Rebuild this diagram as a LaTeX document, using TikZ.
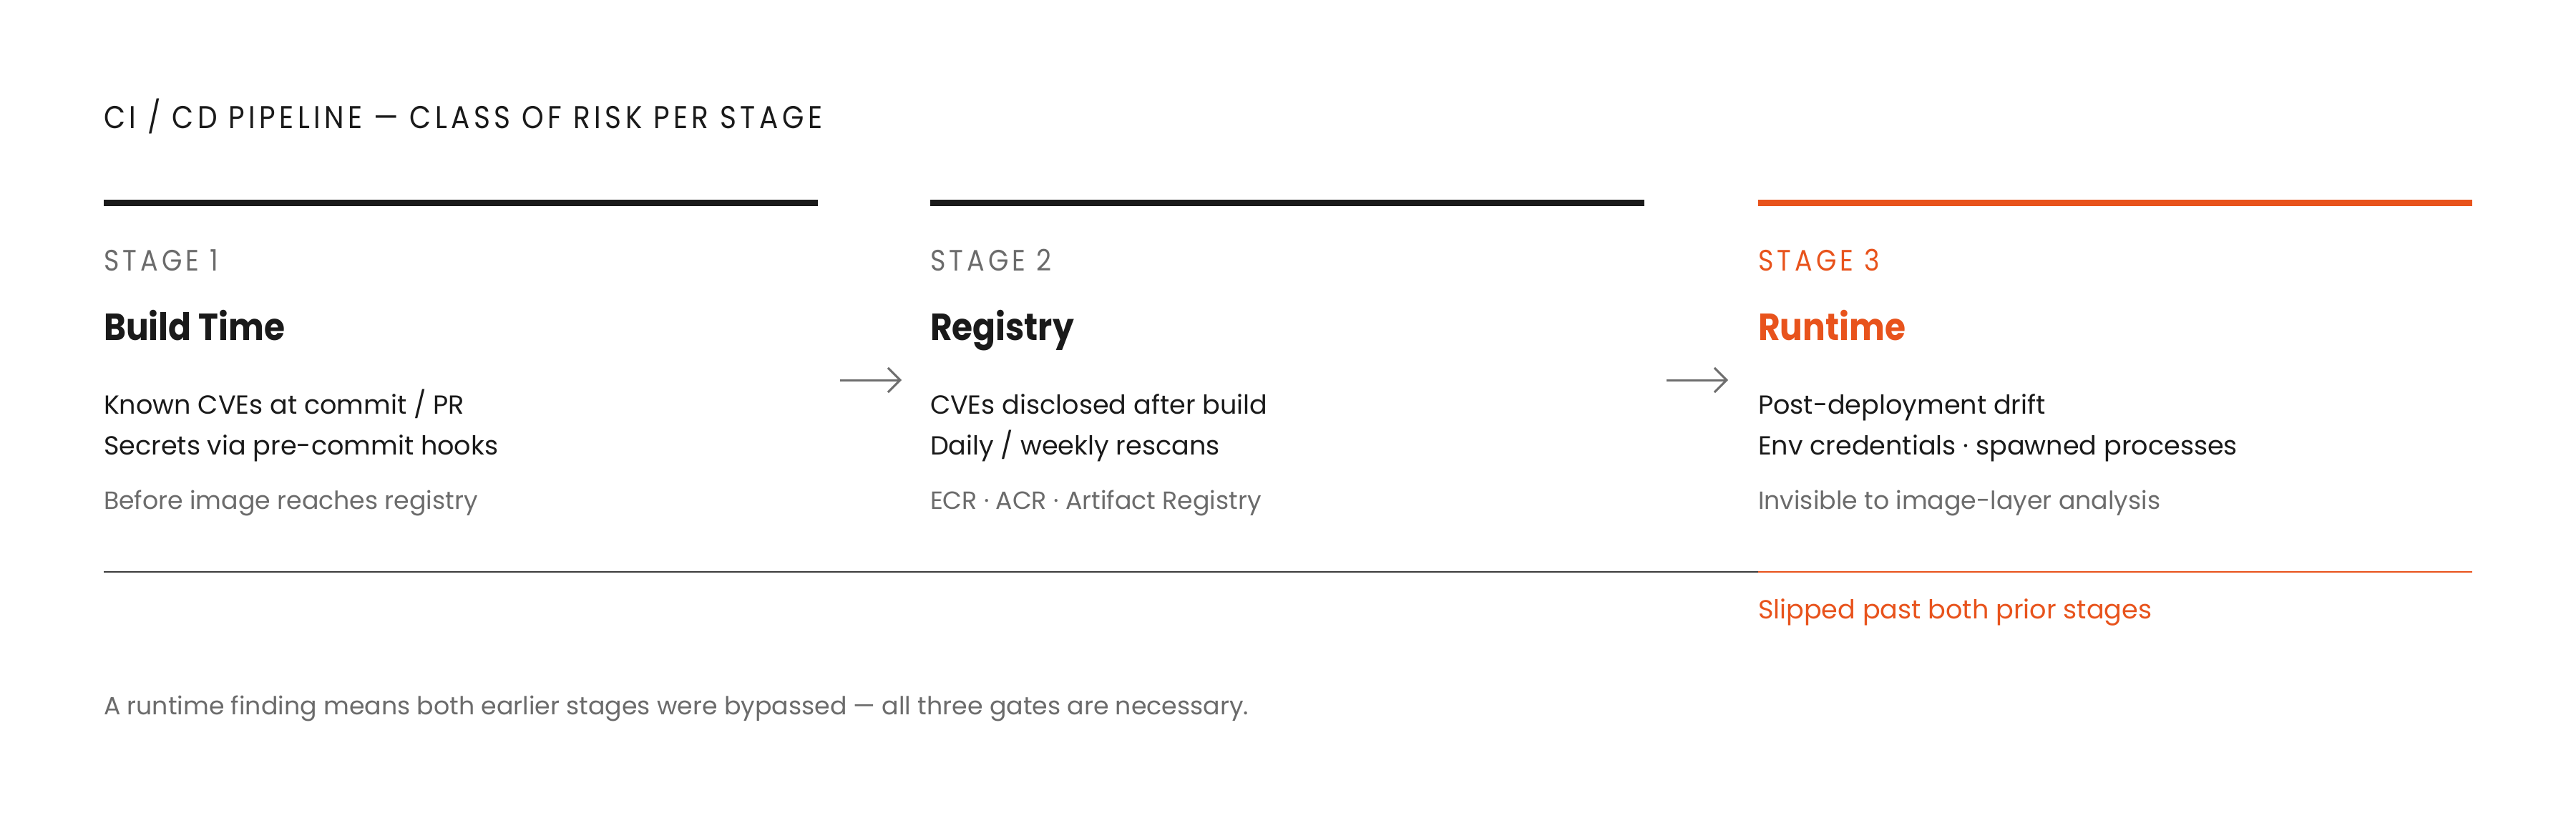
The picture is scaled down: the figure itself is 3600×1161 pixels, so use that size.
\documentclass[tikz,border=0pt]{standalone}
\usepackage{graphicx}
\usepackage{fontspec}
\setmainfont{Poppins}
\usetikzlibrary{arrows.meta}
\definecolor{ink}{HTML}{1A1A1A}
\definecolor{mute}{HTML}{6B6B6B}
\definecolor{accent}{HTML}{E8531C}
\definecolor{arrowgray}{HTML}{6E6E6E}
\newlength\calw
% #1 macro, #2 font features, #3 sample text, #4 target width (px = pt)
\newcommand\calibrate[4]{%
  \settowidth\calw{\fontsize{100}{100}\selectfont #2#3}%
  \pgfmathsetmacro#1{#4/\calw*100}}
\newcommand\titlefeat{\addfontfeatures{LetterSpace=14}}
\newcommand\stagefeat{\addfontfeatures{LetterSpace=14}}
\newcommand\tall[2]{\scalebox{1}[#1]{#2}}
\begin{document}
\calibrate\sztitle{\titlefeat}{CI / CD PIPELINE — CLASS OF RISK PER STAGE}{1004}%
\calibrate\szstage{\stagefeat}{STAGE 1}{160}%
\calibrate\szhead{\bfseries}{Build Time}{253}%
\calibrate\szbody{}{Known CVEs at commit / PR}{504}%
\calibrate\sznote{}{A runtime finding means both earlier stages were bypassed — all three gates are necessary.}{1600}%
\begin{tikzpicture}[x=1pt,y=-1pt,
  txt/.style={anchor=base west, inner sep=0pt, outer sep=0pt},
  titletxt/.style={txt, text=ink, font=\fontsize{\sztitle}{\sztitle}\selectfont\titlefeat},
  stagetxt/.style={txt, text=mute, font=\fontsize{\szstage}{\szstage}\selectfont\stagefeat},
  headtxt/.style={txt, text=ink, font=\fontsize{\szhead}{\szhead}\selectfont\bfseries},
  bodytxt/.style={txt, text=ink, font=\fontsize{\szbody}{\szbody}\selectfont},
  notetxt/.style={txt, text=mute, font=\fontsize{\sznote}{\sznote}\selectfont},
  topbar/.style={line width=9pt, draw=ink},
  flowarrow/.style={line width=3pt, draw=arrowgray, -{Straight Barb[length=17pt, width=34pt, line width=3pt]}},
]
\useasboundingbox[fill=white] (0,0) rectangle (3600,1161);

\node[titletxt] (title) at (145,180) {\tall{1.13}{CI / CD PIPELINE — CLASS OF RISK PER STAGE}};

% top bars
\coordinate (b1s) at (145,283); \coordinate (b1e) at (1143,283);
\coordinate (b2s) at (1300,283); \coordinate (b2e) at (2298,283);
\coordinate (b3s) at (2457,283); \coordinate (b3e) at (3455,283);
\draw[topbar] (b1s) -- (b1e);
\draw[topbar] (b2s) -- (b2e);
\draw[topbar, draw=accent] (b3s) -- (b3e);

% stage 1
\node[stagetxt] (s1) at (145,378) {\tall{1.13}{STAGE 1}};
\node[headtxt] (h1) at (145,475) {\tall{1.12}{Build Time}};
\node[bodytxt] (a1) at (145,578) {Known CVEs at commit / PR};
\node[bodytxt] (c1) at (145,635) {Secrets via pre-commit hooks};
\node[notetxt] (n1) at (145,711) {Before image reaches registry};

% stage 2
\node[stagetxt] (s2) at (1300,378) {\tall{1.13}{STAGE 2}};
\node[headtxt] (h2) at (1300,475) {\tall{1.12}{Registry}};
\node[bodytxt] (a2) at (1300,578) {CVEs disclosed after build};
\node[bodytxt] (c2) at (1300,635) {Daily / weekly rescans};
\node[notetxt] (n2) at (1300,711) {ECR · ACR · Artifact Registry};

% stage 3
\node[stagetxt, text=accent] (s3) at (2457,378) {\tall{1.13}{STAGE 3}};
\node[headtxt, text=accent] (h3) at (2457,475) {\tall{1.12}{Runtime}};
\node[bodytxt] (a3) at (2457,578) {Post-deployment drift};
\node[bodytxt] (c3) at (2457,635) {Env credentials · spawned processes};
\node[notetxt] (n3) at (2457,711) {Invisible to image-layer analysis};

% arrows between stages
\coordinate (ar1s) at (1174,531); \coordinate (ar1e) at (1260,531);
\coordinate (ar2s) at (2329,531); \coordinate (ar2e) at (2415,531);
\draw[flowarrow] (ar1s) -- (ar1e);
\draw[flowarrow] (ar2s) -- (ar2e);

% bottom rule
\coordinate (r0) at (145,799); \coordinate (r1) at (2457,799); \coordinate (r2) at (3455,799);
\draw[line width=2.5pt, draw=ink!85!white] (r0) -- (r1);
\draw[line width=2.5pt, draw=accent] (r1) -- (r2);

\node[bodytxt, text=accent] (slip) at (2457,864) {Slipped past both prior stages};
\node[notetxt] (foot) at (145,998) {A runtime finding means both earlier stages were bypassed — all three gates are necessary.};
\end{tikzpicture}
\end{document}
